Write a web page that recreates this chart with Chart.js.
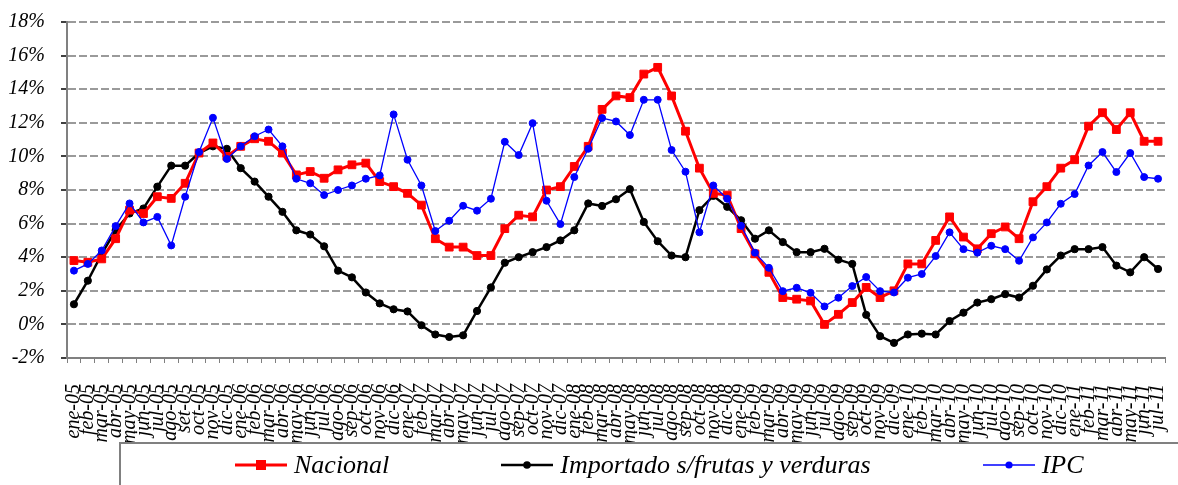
<!DOCTYPE html>
<html>
<head>
<meta charset="utf-8">
<script src="https://cdn.jsdelivr.net/npm/chart.js@4.4.1/dist/chart.umd.min.js"></script>
<style>
  html, body { margin: 0; padding: 0; background: #fff; }
  #wrap { position: relative; width: 1178px; height: 485px; overflow: hidden; }
  #chart { position: absolute; left: 0; top: 0; }
  #legend {
    position: absolute; left: 119px; top: 442px; width: 1100px; height: 48px;
    border-top: 2px solid #808080; border-left: 2px solid #808080;
    font-family: 'Liberation Serif', serif; font-style: italic; font-size: 26px;
    display: flex; align-items: center; padding-left: 114px; padding-bottom: 4px; box-sizing: border-box;
    color: #000;
  }
  #legend .item { display: flex; align-items: center; margin-right: 112px; }
  #legend svg { margin-right: 7px; }
</style>
</head>
<body>
<div id="wrap">
  <canvas id="chart" width="1178" height="485"></canvas>
  <div id="legend"></div>
</div>
<script>
const months = [
  'ene-05', 'feb-05', 'mar-05', 'abr-05', 'may-05', 'jun-05', 'jul-05', 'ago-05', 'set-05', 'oct-05', 'nov-05', 'dic-05',
  'ene-06', 'feb-06', 'mar-06', 'abr-06', 'may-06', 'jun-06', 'jul-06', 'ago-06', 'sep-06', 'oct-06', 'nov-06', 'dic-06',
  'ene-07', 'feb-07', 'mar-07', 'abr-07', 'may-07', 'jun-07', 'jul-07', 'ago-07', 'sep-07', 'oct-07', 'nov-07', 'dic-07',
  'ene-08', 'feb-08', 'mar-08', 'abr-08', 'may-08', 'jun-08', 'jul-08', 'ago-08', 'sep-08', 'oct-08', 'nov-08', 'dic-08',
  'ene-09', 'feb-09', 'mar-09', 'abr-09', 'may-09', 'jun-09', 'jul-09', 'ago-09', 'sep-09', 'oct-09', 'nov-09', 'dic-09',
  'ene-10', 'feb-10', 'mar-10', 'abr-10', 'may-10', 'jun-10', 'jul-10', 'ago-10', 'sep-10', 'oct-10', 'nov-10', 'dic-10',
  'ene-11', 'feb-11', 'mar-11', 'abr-11', 'may-11', 'jun-11', 'jul-11'
];

// % variación interanual
const nacional = [
  3.8, 3.7, 3.9, 5.1, 6.8, 6.6, 7.6, 7.5, 8.4, 10.2, 10.8, 10.0,
  10.6, 11.05, 10.9, 10.2, 8.9, 9.1, 8.7, 9.2, 9.5, 9.6, 8.5, 8.2,
  7.8, 7.1, 5.1, 4.6, 4.6, 4.1, 4.1, 5.7, 6.5, 6.4, 8.0, 8.2,
  9.4, 10.6, 12.8, 13.6, 13.5, 14.9, 15.3, 13.6, 11.5, 9.3, 7.8, 7.7,
  5.7, 4.2, 3.1, 1.6, 1.5, 1.4, 0.0, 0.6, 1.3, 2.2, 1.6, 2.0,
  3.6, 3.6, 5.0, 6.4, 5.2, 4.5, 5.4, 5.8, 5.1, 7.3, 8.2, 9.3,
  9.8, 11.8, 12.6, 11.6, 12.6, 10.9, 10.9
];

const importado = [
  1.2, 2.6, 4.2, 5.6, 6.6, 6.9, 8.2, 9.45, 9.45, 10.2, 10.6, 10.45,
  9.3, 8.5, 7.6, 6.7, 5.6, 5.35, 4.65, 3.2, 2.8, 1.9, 1.25, 0.9,
  0.77, -0.05, -0.6, -0.75, -0.65, 0.8, 2.2, 3.67, 4.0, 4.3, 4.6, 5.0,
  5.6, 7.2, 7.05, 7.45, 8.05, 6.1, 4.95, 4.1, 4.0, 6.8, 7.65, 7.0,
  6.2, 5.1, 5.6, 4.9, 4.3, 4.3, 4.5, 3.85, 3.6, 0.57, -0.7, -1.1,
  -0.6, -0.55, -0.6, 0.2, 0.7, 1.3, 1.5, 1.8, 1.6, 2.3, 3.27, 4.1,
  4.48, 4.48, 4.6, 3.5, 3.1, 4.0, 3.3
];

const ipc = [
  3.2, 3.6, 4.4, 5.85, 7.2, 6.07, 6.4, 4.7, 7.6, 10.26, 12.3, 9.85,
  10.6, 11.2, 11.6, 10.6, 8.67, 8.4, 7.7, 8.0, 8.27, 8.67, 8.87, 12.5,
  9.8, 8.27, 5.56, 6.17, 7.06, 6.77, 7.48, 10.87, 10.08, 11.98, 7.36, 5.97,
  8.77, 10.45, 12.28, 12.08, 11.27, 13.37, 13.37, 10.38, 9.09, 5.48, 8.27, 7.48,
  5.87, 4.27, 3.37, 1.98, 2.18, 1.88, 1.07, 1.59, 2.28, 2.82, 1.98, 1.9,
  2.78, 3.0, 4.07, 5.48, 4.48, 4.27, 4.68, 4.48, 3.79, 5.18, 6.07, 7.18,
  7.76, 9.46, 10.26, 9.07, 10.2, 8.77, 8.67
];

const seriesNames = ['Nacional', 'Importado s/frutas y verduras', 'IPC'];
const yTicks = [-2, 0, 2, 4, 6, 8, 10, 12, 14, 16, 18];

const tickFont = { family: 'Liberation Serif', style: 'italic', size: 20 };

const ctx = document.getElementById('chart').getContext('2d');
const chart = new Chart(ctx, {
  type: 'line',
  data: {
    labels: months,
    datasets: [
      {
        label: seriesNames[0],
        data: nacional,
        borderColor: '#ff0000',
        backgroundColor: '#ff0000',
        borderWidth: 3,
        pointStyle: 'rect',
        pointRadius: 5.5,
        pointBorderWidth: 1,
        order: 1,
      },
      {
        label: seriesNames[1],
        data: importado,
        borderColor: '#000000',
        backgroundColor: '#000000',
        borderWidth: 2.5,
        pointStyle: 'circle',
        pointRadius: 3.6,
        pointBorderWidth: 1,
        order: 2,
      },
      {
        label: seriesNames[2],
        data: ipc,
        borderColor: '#0000ff',
        backgroundColor: '#0000ff',
        borderWidth: 1.3,
        pointStyle: 'circle',
        pointRadius: 3.5,
        pointBorderWidth: 1,
        order: 0,
      },
    ],
  },
  options: {
    responsive: false,
    animation: false,
    layout: { padding: { top: 22, right: 13, left: 0, bottom: 0 } },
    elements: { line: { tension: 0 } },
    plugins: {
      legend: { display: false },
      tooltip: { enabled: false },
    },
    scales: {
      x: {
        offset: true,
        grid: {
          drawOnChartArea: false,
          offset: true,
          tickLength: 5,
          color: '#808080',
          lineWidth: 1,
        },
        border: { color: '#808080', width: 2 },
        ticks: {
          autoSkip: false,
          minRotation: 90,
          maxRotation: 90,
          padding: 21,
          color: '#000',
          font: tickFont,
        },
        afterFit: (s) => {
          s.height = 127;
          s.paddingLeft = 0;
          s.paddingRight = 0;
        },
      },
      y: {
        min: yTicks[0],
        max: yTicks[yTicks.length - 1],
        afterBuildTicks: (s) => { s.ticks = yTicks.map((v) => ({ value: v })); },
        ticks: {
          callback: (v) => v + '%',
          padding: 16,
          color: '#000',
          font: tickFont,
        },
        grid: {
          color: '#9a9a9a',
          lineWidth: 2,
          tickLength: 6,
          tickColor: '#000',
          tickWidth: 1.5,
        },
        border: { color: '#808080', width: 2, dash: [8, 3] },
        afterFit: (s) => {
          s.width = 67;
          s.paddingTop = 0;
          s.paddingBottom = 0;
        },
      },
    },
  },
});

// legend (line + marker + text)
const legend = document.getElementById('legend');
chart.data.datasets.forEach((ds) => {
  const item = document.createElement('div');
  item.className = 'item';
  let mark;
  if (ds.pointStyle === 'rect') {
    mark = `<rect x="21" y="6" width="10" height="10" fill="${ds.borderColor}"/>`;
  } else {
    mark = `<circle cx="26" cy="11" r="${ds.order === 2 ? 3.8 : 3.6}" fill="${ds.borderColor}"/>`;
  }
  item.innerHTML = `<svg width="52" height="22"><line x1="0" y1="11" x2="52" y2="11" stroke="${ds.borderColor}" stroke-width="${ds.borderWidth}"/>${mark}</svg><span>${ds.label}</span>`;
  legend.appendChild(item);
});
</script>
</body>
</html>
